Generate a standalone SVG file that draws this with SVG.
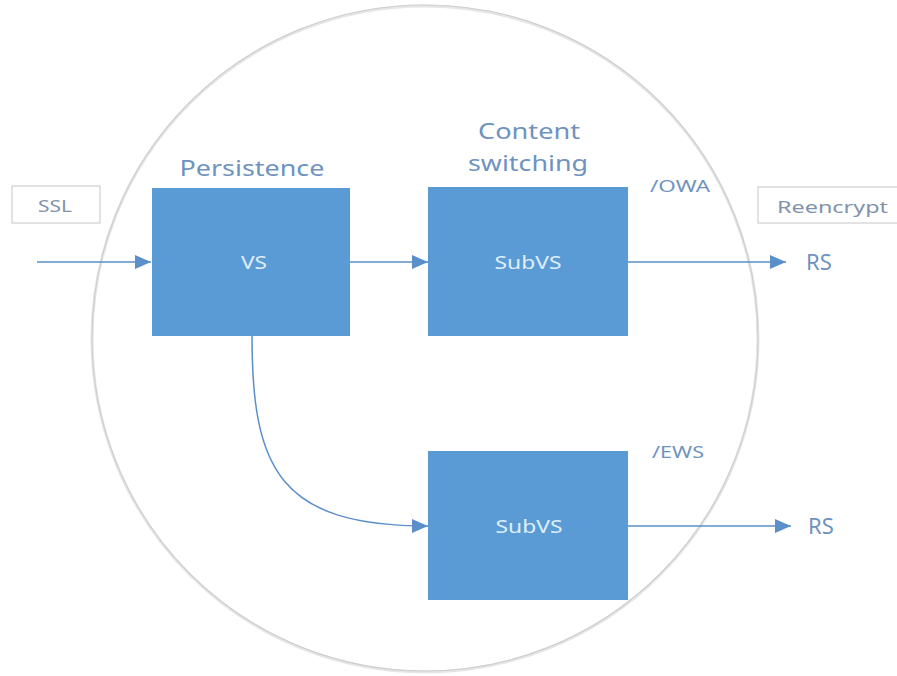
<svg xmlns="http://www.w3.org/2000/svg" width="897" height="676" viewBox="0 0 897 676">
<style>
.box{fill:#5b9bd5;}
.btxt{font-family:"Noto Sans","Open Sans",sans-serif;font-size:18px;fill:#ddeefa;text-anchor:middle;}
.lbl{font-family:"Noto Sans","Open Sans",sans-serif;fill:#6f93bf;}
.conn{fill:none;stroke:#5b8fc9;stroke-width:1.5;}
.tag{fill:#ffffff;stroke:#d9d9d9;stroke-width:1.5;}
.tagtxt{font-family:"Noto Sans","Open Sans",sans-serif;font-size:17px;fill:#7f93ab;}
</style>
<defs>
<marker id="ah" markerWidth="16" markerHeight="14" refX="16" refY="7" orient="auto" markerUnits="userSpaceOnUse">
<path d="M0,0 L16,7 L0,14 Z" fill="#5b8fc9"/>
</marker>
</defs>
<rect width="897" height="676" fill="#ffffff"/>
<g id="boundary">
<circle cx="425" cy="339" r="333" fill="none" stroke="#e6e6e6" stroke-width="3"/>
<circle cx="425" cy="338" r="333" fill="none" stroke="#cfcfcf" stroke-width="1.2"/>
</g>
<g id="connectors">
<line class="conn" x1="37" y1="262" x2="151" y2="262" marker-end="url(#ah)"/>
<line class="conn" x1="350" y1="262" x2="428" y2="262" marker-end="url(#ah)"/>
<line class="conn" x1="628" y1="262" x2="786" y2="262" marker-end="url(#ah)"/>
<line class="conn" x1="628" y1="526" x2="791" y2="526" marker-end="url(#ah)"/>
<path class="conn" d="M252,336 C252,470 280,526 428,526" marker-end="url(#ah)"/>
</g>
<g id="ssl">
<rect class="tag" x="12" y="186" width="88" height="37"/>
<text class="tagtxt" x="38" y="212" textLength="34" lengthAdjust="spacingAndGlyphs">SSL</text>
</g>
<g id="reencrypt">
<rect class="tag" x="758" y="187" width="145" height="36"/>
<text class="tagtxt" x="777" y="213" textLength="111" lengthAdjust="spacingAndGlyphs">Reencrypt</text>
</g>
<g id="vs">
<rect class="box" x="152" y="188" width="198" height="148"/>
<text class="btxt" x="254" y="269" textLength="26" lengthAdjust="spacingAndGlyphs">VS</text>
<text class="lbl" x="252" y="176" font-size="22" text-anchor="middle" textLength="145" lengthAdjust="spacingAndGlyphs">Persistence</text>
</g>
<g id="subvs-owa">
<rect class="box" x="428" y="187" width="200" height="149"/>
<text class="btxt" x="528" y="269" textLength="67" lengthAdjust="spacingAndGlyphs">SubVS</text>
<text class="lbl" x="529" y="139" font-size="22" text-anchor="middle" textLength="102" lengthAdjust="spacingAndGlyphs">Content</text>
<text class="lbl" x="528" y="171" font-size="22" text-anchor="middle" textLength="120" lengthAdjust="spacingAndGlyphs">switching</text>
<text class="lbl" x="650" y="192" font-size="17" textLength="60" lengthAdjust="spacingAndGlyphs">/OWA</text>
</g>
<g id="subvs-ews">
<rect class="box" x="428" y="451" width="200" height="149"/>
<text class="btxt" x="529" y="533" textLength="67" lengthAdjust="spacingAndGlyphs">SubVS</text>
<text class="lbl" x="652" y="458" font-size="17" textLength="52" lengthAdjust="spacingAndGlyphs">/EWS</text>
</g>
<g id="rs-1">
<text class="lbl" x="806" y="270" font-size="22">RS</text>
</g>
<g id="rs-2">
<text class="lbl" x="808" y="534" font-size="22">RS</text>
</g>
</svg>
